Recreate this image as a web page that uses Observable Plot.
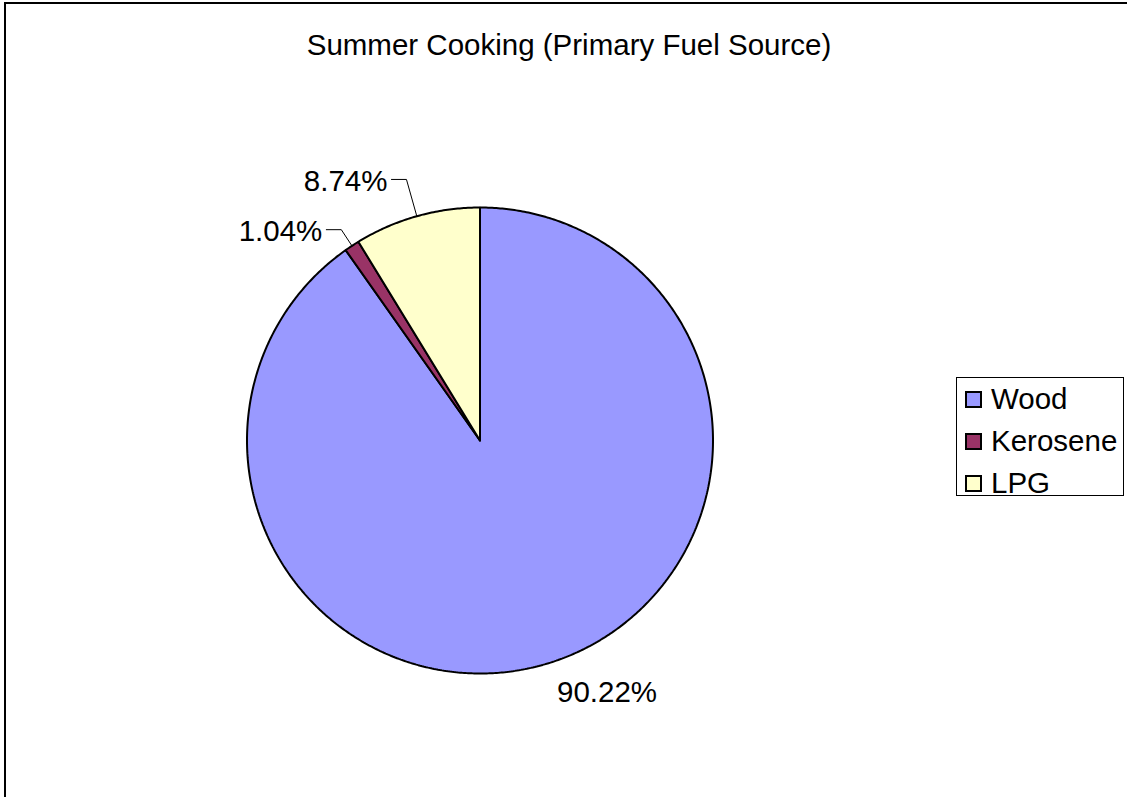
<!DOCTYPE html>
<html>
<head>
<meta charset="utf-8">
<script src="https://cdn.jsdelivr.net/npm/d3@7"></script>
<script src="https://cdn.jsdelivr.net/npm/@observablehq/plot@0.6"></script>
<style>
  html, body { margin: 0; padding: 0; background: #fff; overflow: hidden; }
  body { width: 1127px; height: 797px; position: relative;
         font-family: "Liberation Sans", Arial, Helvetica, sans-serif; }
  #frame { position: absolute; left: 4px; top: 2px; width: 1200px; height: 900px;
           border: 2px solid #000; box-sizing: border-box; pointer-events: none; }
  #title { position: absolute; left: 0; top: 28px; width: 1138px; text-align: center;
           font-size: 29.5px; line-height: 34px; color: #000; }
  #chart { position: absolute; left: 0; top: 0; }
  #legend { position: absolute; left: 956px; top: 377px; width: 168px; height: 119px;
            border: 1px solid #000; box-sizing: border-box; background: #fff; }
  .item { position: absolute; left: 8px; height: 34px; display: flex; align-items: center;
          font-size: 29.5px; line-height: 34px; color: #000; }
  .sw { width: 17px; height: 17px; border: 2px solid #000; box-sizing: border-box; margin-right: 9px; }
</style>
</head>
<body>
<div id="chart"></div>
<div id="title">Summer Cooking (Primary Fuel Source)</div>
<div id="legend"></div>
<div id="frame"></div>
<script>
// Primary cooking fuel in summer, share of households (%)
const categories = ["Wood", "Kerosene", "LPG"];
const shares = [90.22, 1.04, 8.74];
const sliceColors = ["#9999FF", "#993366", "#FFFFCC"];

// Pie geometry (pixels) and label placement along each slice's mid-angle
const cx = 479.5, cy = 440, R = 233;
const labelRadius = {Wood: 1.135, Kerosene: 1.083, LPG: 1.164};
const leaderTail = 15 / R;   // horizontal run of a leader line, in radius units

const rows = categories.map((category, i) => ({category, share: shares[i]}));
const arcs = d3.pie().sort(null).value(d => d.share)(rows);

// Slice outlines: centre -> arc -> centre, angles clockwise from 12 o'clock
const slicePoints = arcs.flatMap(a => {
  const c = a.data.category;
  const n = Math.max(2, Math.ceil((a.endAngle - a.startAngle) / (Math.PI / 360)));
  const pts = [{category: c, x: 0, y: 0}];
  for (let k = 0; k <= n; ++k) {
    const t = a.startAngle + (a.endAngle - a.startAngle) * k / n;
    pts.push({category: c, x: Math.sin(t), y: Math.cos(t)});
  }
  pts.push({category: c, x: 0, y: 0});
  return pts;
});

// Percentage labels; small slices get a leader line
const labels = arcs.map(a => {
  const c = a.data.category;
  const mid = (a.startAngle + a.endAngle) / 2;
  const r = labelRadius[c];
  const ex = Math.sin(mid) * r, ey = Math.cos(mid) * r;
  const left = ex < 0;
  const leader = a.data.share < 10;
  return {
    category: c,
    text: a.data.share.toFixed(2) + "%",
    rimX: Math.sin(mid), rimY: Math.cos(mid),
    ex, ey, leader, left,
    tx: leader ? (left ? ex - leaderTail : ex + leaderTail) : ex,
    ty: ey
  };
});
const leaderPoints = labels.filter(d => d.leader).flatMap(d => [
  {category: d.category, x: d.tx, y: d.ty},
  {category: d.category, x: d.ex, y: d.ey},
  {category: d.category, x: d.rimX, y: d.rimY}
]);

const chart = Plot.plot({
  width: 1127,
  height: 797,
  margin: 0,
  style: {background: "transparent", fontFamily: '"Liberation Sans", Arial, sans-serif'},
  x: {domain: [-1, 1], range: [cx - R, cx + R], axis: null},
  y: {domain: [-1, 1], range: [cy + R, cy - R], axis: null},
  color: {domain: categories, range: sliceColors},
  marks: [
    Plot.line(slicePoints, {
      x: "x", y: "y", z: "category", fill: "category",
      stroke: "#000", strokeWidth: 2, strokeLinejoin: "miter", curve: "linear"
    }),
    Plot.line(leaderPoints, {
      x: "x", y: "y", z: "category", stroke: "#000", strokeWidth: 1, curve: "linear"
    }),
    Plot.text(labels.filter(d => d.left), {
      x: "tx", y: "ty", text: "text", textAnchor: "end", dx: -4, dy: 2,
      fontSize: 29.5, fill: "#000"
    }),
    Plot.text(labels.filter(d => !d.left), {
      x: "tx", y: "ty", text: "text", textAnchor: "start", dx: -3,
      fontSize: 29.5, fill: "#000"
    })
  ]
});
document.getElementById("chart").append(chart);

// Legend
const legend = document.getElementById("legend");
categories.forEach((c, i) => {
  const item = document.createElement("div");
  item.className = "item";
  item.style.top = (4 + i * 42) + "px";
  const sw = document.createElement("span");
  sw.className = "sw";
  sw.style.background = sliceColors[i];
  item.append(sw, document.createTextNode(c));
  legend.append(item);
});
</script>
</body>
</html>
